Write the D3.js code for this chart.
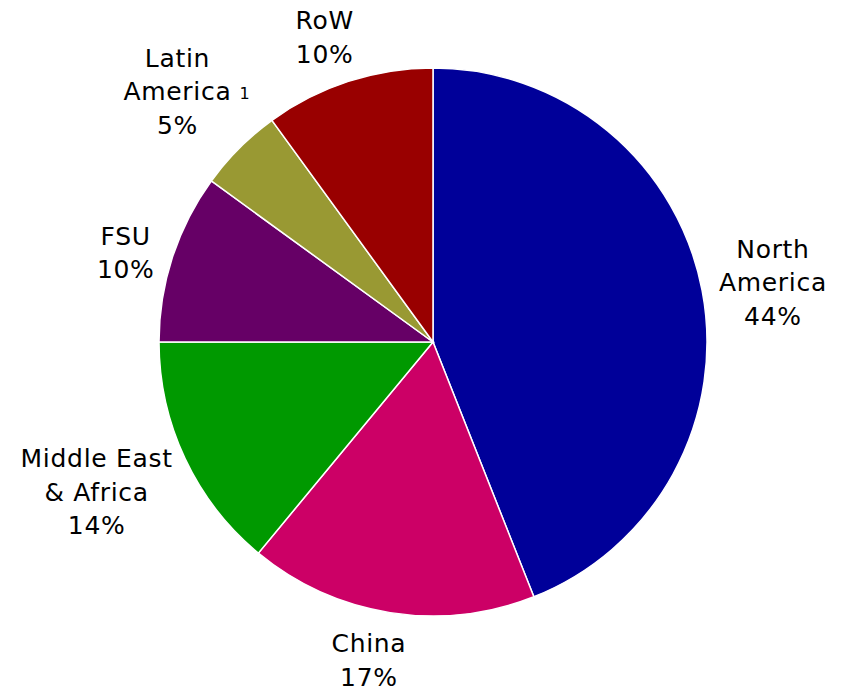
<!DOCTYPE html>
<html>
<head>
<meta charset="utf-8">
<script src="https://cdn.jsdelivr.net/npm/d3@7"></script>
<style>
  body { margin: 0; background: #fff; }
  text { font-family: "DejaVu Sans", Verdana, sans-serif; fill: #000; }
</style>
</head>
<body>
<div id="pie-chart"></div>
<script>
const width = 842;
const height = 691;

// regions, clockwise from 12 o'clock
const regions = ["North America", "China", "Middle East & Africa", "FSU", "Latin America", "RoW"];
const shares = [44, 17, 14, 10, 5, 10];
const labelLines = [
  ["North", "America"],
  ["China"],
  ["Middle East", "& Africa"],
  ["FSU"],
  ["Latin", "America"],
  ["RoW"]
];
const footnotes = ["", "", "", "", "1", ""];
const colors = ["#000099", "#cc0066", "#009900", "#660066", "#999933", "#990000"];

const cx = 433, cy = 342, radius = 274;
const fontSize = 25, lineH = 33.5;

// hand nudges so labels land where the original put them
const nudge = [[3, 4], [-13, 2], [-6, 7], [-5, 10], [-13, -12], [-10, 0]];

const data = regions.map((r, i) => ({
  region: r, share: shares[i], lines: labelLines[i], note: footnotes[i], color: colors[i], i: i
}));

const svg = d3.select("#pie-chart")
  .append("svg")
  .attr("width", width)
  .attr("height", height);

const g = svg.append("g")
  .attr("transform", `translate(${cx}, ${cy})`);

const pie = d3.pie()
  .value(d => d.share)
  .sort(null);

const arc = d3.arc()
  .innerRadius(0)
  .outerRadius(radius);

const arcs = pie(data);

g.selectAll("path")
  .data(arcs)
  .join("path")
  .attr("d", arc)
  .attr("fill", d => d.data.color)
  .attr("stroke", "#fff")
  .attr("stroke-width", 1.5);

// labels sit outside the pie, pushed out along the mid angle by half their box
const gap = 15;
const labels = g.selectAll("g.label")
  .data(arcs)
  .join("g")
  .attr("class", "label");

labels.each(function(d) {
  const lab = d3.select(this);
  const t = lab.append("text")
    .attr("text-anchor", "middle")
    .style("font-size", fontSize + "px")
    .style("letter-spacing", "0.7px");
  const lines = d.data.lines.concat([d.data.share + "%"]);
  lines.forEach((line, i) => {
    t.append("tspan")
      .attr("x", 0)
      .attr("y", i * lineH)
      .text(line);
  });
  if (d.data.note) {
    // small footnote marker after the last name line
    const idx = d.data.lines.length - 1;
    const bb = t.selectAll("tspan").nodes()[idx].getBBox();
    lab.append("text")
      .attr("x", bb.x + bb.width + 8)
      .attr("y", idx * lineH - 1)
      .style("font-size", "16px")
      .text(d.data.note);
  }

  const mid = (d.startAngle + d.endAngle) / 2;
  const dx = Math.sin(mid), dy = -Math.cos(mid);
  const ax = dx * (radius + gap), ay = dy * (radius + gap);
  const tw = t.node().getBBox();
  const n = nudge[d.data.i];
  const bx = ax + dx * tw.width / 2 - (tw.x + tw.width / 2) + n[0];
  const by = ay + dy * tw.height / 2 - (tw.y + tw.height / 2) + n[1];
  lab.attr("transform", `translate(${bx}, ${by})`);
});
</script>
</body>
</html>
